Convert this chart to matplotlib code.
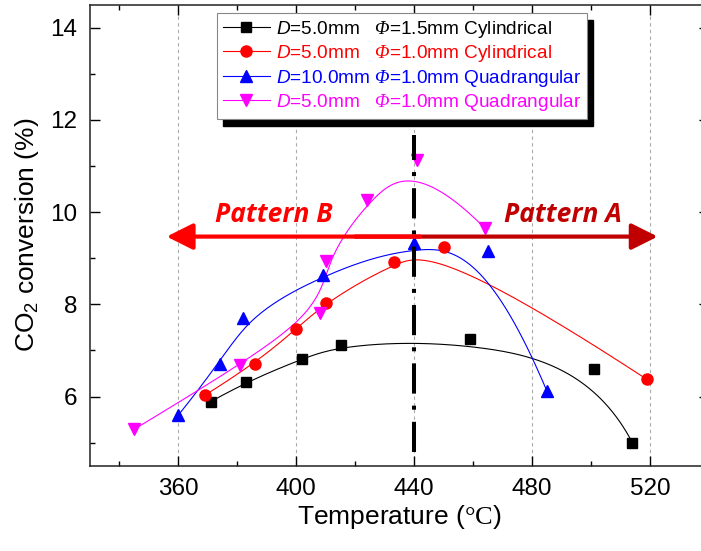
import numpy as np
import matplotlib.pyplot as plt
from matplotlib.patches import Rectangle

plt.rcParams['font.family'] = 'Liberation Sans'
plt.rcParams['mathtext.fontset'] = 'custom'
plt.rcParams['mathtext.rm'] = 'Liberation Sans'
plt.rcParams['mathtext.it'] = 'Liberation Sans:italic'
plt.rcParams['mathtext.sf'] = 'Liberation Serif'
# Phi italique (mathtext force les majuscules grecques en droit avec \mathit)
plt.rcParams['mathtext.bf'] = 'Liberation Serif:italic'

# Données
T_cyl15 = [371, 383, 402, 415, 459, 501, 514]
X_cyl15 = [5.89, 6.32, 6.82, 7.12, 7.24, 6.59, 5.00]

T_cyl10 = [369, 386, 400, 410, 433, 450, 519]
X_cyl10 = [6.03, 6.71, 7.47, 8.04, 8.91, 9.25, 6.37]

T_quad10 = [360, 374, 382, 409, 440, 465, 485]
X_quad10 = [5.60, 6.71, 7.71, 8.64, 9.34, 9.15, 6.12]

T_quad5 = [345, 381, 408, 410, 424, 441, 464]
X_quad5 = [5.29, 6.68, 7.82, 8.93, 10.27, 11.13, 9.65]

labels = [r"$\mathit{D}$=5.0mm   $\mathbf{Φ}$=1.5mm Cylindrical",
          r"$\mathit{D}$=5.0mm   $\mathbf{Φ}$=1.0mm Cylindrical",
          r"$\mathit{D}$=10.0mm $\mathbf{Φ}$=1.0mm Quadrangular",
          r"$\mathit{D}$=5.0mm   $\mathbf{Φ}$=1.0mm Quadrangular"]

T_split = 440
T_arrow_left, T_arrow_right = 356, 522.6
X_arrow = 9.47


# Courbe B-spline (points = points de contrôle), comme "B-Spline" d'Origin
def bspline(xs, ys, k=3, n=300):
    P = np.column_stack([xs, ys]).astype(float)
    m = len(P)
    knots = np.concatenate([np.zeros(k), np.linspace(0, 1, m - k + 1), np.ones(k)])
    t = np.linspace(0, 1 - 1e-9, n)

    def N(i, p):
        if p == 0:
            return np.where((knots[i] <= t) & (t < knots[i + 1]), 1.0, 0.0)
        out = np.zeros_like(t)
        d1 = knots[i + p] - knots[i]
        d2 = knots[i + p + 1] - knots[i + 1]
        if d1 > 0:
            out += (t - knots[i]) / d1 * N(i, p - 1)
        if d2 > 0:
            out += (knots[i + p + 1] - t) / d2 * N(i + 1, p - 1)
        return out

    B = np.array([N(i, k) for i in range(m)])
    C = B.T @ P
    C[-1] = P[-1]
    return C[:, 0], C[:, 1]


fig = plt.figure(figsize=(7.01, 5.51), dpi=100)
ax = fig.add_axes([90 / 701, 85.3 / 551, 619 / 701, 461 / 551])

series = [(T_cyl15, X_cyl15, 'black', 's', 7),
          (T_cyl10, X_cyl10, 'red', 'o', 8),
          (T_quad10, X_quad10, 'blue', '^', 8.5),
          (T_quad5, X_quad5, 'magenta', 'v', 8.5)]

handles = []
for (T, X, c, m, ms), lab in zip(series, labels):
    cx, cy = bspline(T, X)
    ax.plot(cx, cy, color=c, lw=0.8, zorder=3)
    ax.plot(T, X, color=c, marker=m, ms=ms, ls='none', zorder=4)
    h, = ax.plot([], [], color=c, marker=m, ms=ms, lw=0.8, label=lab)
    handles.append(h)

# Ligne verticale à 440 °C
ax.plot([T_split, T_split], [4.79, 11.67], color='black', lw=2.9,
        dashes=(7.5, 3, 1, 3), solid_capstyle='butt', dash_capstyle='butt', zorder=5)

# Flèches Pattern A / Pattern B
ax.annotate('', xy=(T_arrow_right, X_arrow), xytext=(420, X_arrow),
            arrowprops=dict(arrowstyle='-|>,head_length=1.6,head_width=0.8',
                            color='#c00000', lw=3, shrinkA=0, shrinkB=0), zorder=6)
ax.annotate('', xy=(T_arrow_left, X_arrow), xytext=(442, X_arrow),
            arrowprops=dict(arrowstyle='-|>,head_length=1.6,head_width=0.8',
                            color='#ff0000', lw=3, shrinkA=0, shrinkB=0), zorder=6)
ax.text(392.4, 9.94, 'Pattern B', color='#ff0000', fontsize=19, family='Open Sans',
        weight='bold', style='italic', ha='center', va='center', zorder=6)
ax.text(490.3, 9.94, 'Pattern A', color='#c00000', fontsize=19, family='Open Sans',
        weight='bold', style='italic', ha='center', va='center', zorder=6)

ax.set_xlim(330, 540)
ax.set_ylim(4.5, 14.5)
ax.set_xticks([360, 400, 440, 480, 520])
ax.set_xticks(np.arange(340, 540, 20), minor=True)
ax.set_yticks([6, 8, 10, 12, 14])
ax.set_yticks([5, 7, 9, 11, 13], minor=True)
ax.tick_params(which='both', direction='in', top=True, right=True, labelsize=17.5,
               width=1, pad=9)
ax.tick_params(which='major', length=7)
ax.tick_params(which='minor', length=3.6)
ax.xaxis.grid(True, which='major', color='#aaaaaa', lw=0.8, dashes=(3, 3))
for s in ax.spines.values():
    s.set_linewidth(1.1)
    s.set_color('#222222')

ax.set_xlabel(r"Temperature ($\mathsf{°C}$)", fontsize=19, labelpad=2)
ax.set_ylabel(r"CO$_2$ conversion (%)", fontsize=19, labelpad=6.5)

leg = ax.legend(handles=handles, loc='upper left', bbox_to_anchor=(0.205, 0.982),
                fontsize=13.7, labelcolor='linecolor', fancybox=False, framealpha=1,
                edgecolor='#888888', handlelength=2.5, handletextpad=0.3,
                borderpad=0.3, labelspacing=0.18, borderaxespad=0)
leg.get_frame().set_linewidth(0.8)
leg.set_zorder(10)

# Ombre noire de la légende
fig.canvas.draw()
bb = leg.get_window_extent().transformed(fig.transFigure.inverted())
ax.add_patch(Rectangle((bb.x0 + 6 / 701, bb.y0 - 7 / 551), bb.width, bb.height,
                       transform=fig.transFigure, color='black', zorder=9, clip_on=False))

fig.savefig('out.png', dpi=100)
